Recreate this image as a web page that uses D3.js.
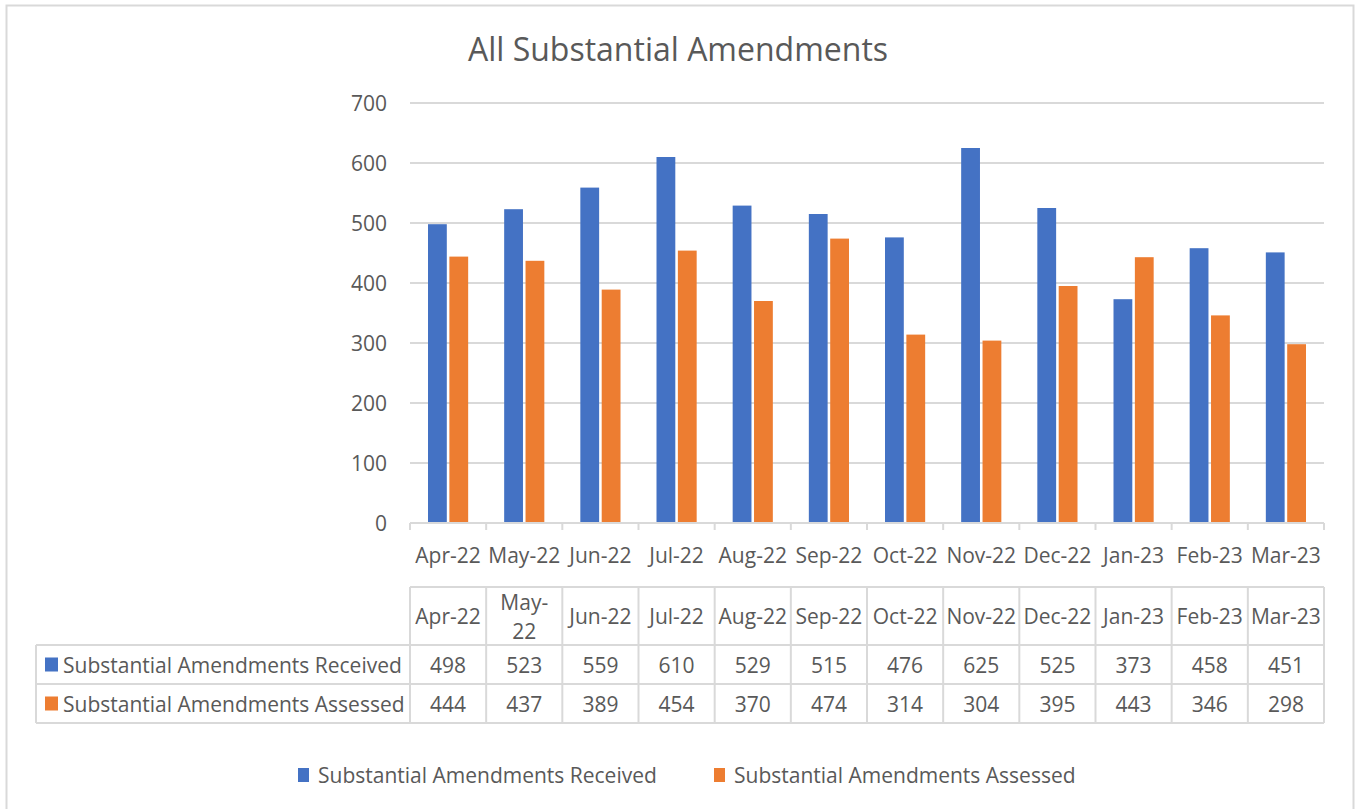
<!DOCTYPE html>
<html>
<head>
  <meta charset="utf-8" />
  <title>All Substantial Amendments</title>
  <script src="https://d3js.org/d3.v7.min.js"></script>
  <style>
    body, html { margin: 0; padding: 0; background: #fff; }
    svg { display: block; }
    text { font-family: "Open Sans", "Noto Sans", sans-serif; fill: #595959; }
  </style>
</head>
<body>
<svg id="chart" width="1361" height="809"></svg>
<script>
// data
var months = ["Apr-22", "May-22", "Jun-22", "Jul-22", "Aug-22", "Sep-22", "Oct-22", "Nov-22", "Dec-22", "Jan-23", "Feb-23", "Mar-23"];
var received = [498, 523, 559, 610, 529, 515, 476, 625, 525, 373, 458, 451];
var assessed = [444, 437, 389, 454, 370, 474, 314, 304, 395, 443, 346, 298];
var seriesNames = ["Substantial Amendments Received", "Substantial Amendments Assessed"];
var colors = ["#4472C4", "#ED7D31"];
var yTicks = [0, 100, 200, 300, 400, 500, 600, 700];

var svg = d3.select("#chart");
var fs = "21px";

// outer chart border
svg.append("rect").attr("x", 6.5).attr("y", 5.5).attr("width", 1347).attr("height", 820)
  .attr("fill", "none").attr("stroke", "#d9d9d9").attr("stroke-width", 2);

var plotLeft = 410, plotRight = 1324, plotTop = 103, plotBottom = 523;

var x = d3.scaleBand().domain(months).range([plotLeft, plotRight]);
var y = d3.scaleLinear().domain([0, 700]).range([plotBottom, plotTop]);
var x1 = d3.scaleBand().domain([0, 1]).range([18, x.bandwidth() - 18]).paddingInner(0.12);

// title
svg.append("text").attr("x", 678).attr("y", 61).attr("text-anchor", "middle")
  .style("font-size", "32px").text("All Substantial Amendments");

// gridlines
svg.append("g").selectAll("line").data(yTicks.filter(function(d) { return d > 0; })).enter()
  .append("line")
  .attr("x1", plotLeft).attr("x2", plotRight)
  .attr("y1", function(d) { return y(d); }).attr("y2", function(d) { return y(d); })
  .attr("stroke", "#d9d9d9").attr("stroke-width", 2);

// y axis labels
svg.append("g").selectAll("text").data(yTicks).enter().append("text")
  .attr("x", 387).attr("y", function(d) { return y(d) + 8; })
  .attr("text-anchor", "end").style("font-size", fs)
  .text(function(d) { return d; });

// bars
var groups = svg.append("g").selectAll("g").data(months).enter().append("g")
  .attr("transform", function(d) { return "translate(" + x(d) + ",0)"; });
groups.selectAll("rect").data(function(d, i) { return [received[i], assessed[i]]; }).enter()
  .append("rect")
  .attr("x", function(d, j) { return x1(j); })
  .attr("width", x1.bandwidth())
  .attr("y", function(d) { return y(d); })
  .attr("height", function(d) { return plotBottom - y(d); })
  .attr("fill", function(d, j) { return colors[j]; });

// x axis line and ticks
svg.append("line").attr("x1", plotLeft).attr("x2", plotRight).attr("y1", plotBottom).attr("y2", plotBottom)
  .attr("stroke", "#d9d9d9").attr("stroke-width", 2);
var tickPos = months.map(function(m) { return x(m); }).concat([plotRight]);
svg.append("g").selectAll("line").data(tickPos).enter().append("line")
  .attr("x1", function(d) { return d; }).attr("x2", function(d) { return d; })
  .attr("y1", plotBottom).attr("y2", plotBottom + 7)
  .attr("stroke", "#d9d9d9").attr("stroke-width", 2);

// x labels
svg.append("g").selectAll("text").data(months).enter().append("text")
  .attr("x", function(d) { return x(d) + x.bandwidth() / 2; }).attr("y", 563)
  .attr("text-anchor", "middle").style("font-size", fs)
  .text(function(d) { return d; });

// data table
var tTop = 587, rowH = [58, 39, 39], tLeft = 36;
var rowY = [tTop, tTop + rowH[0], tTop + rowH[0] + rowH[1], tTop + rowH[0] + rowH[1] + rowH[2]];
var table = svg.append("g");
var gridColor = "#d9d9d9";
// horizontal lines
table.append("line").attr("x1", plotLeft).attr("x2", plotRight).attr("y1", rowY[0]).attr("y2", rowY[0])
  .attr("stroke", gridColor).attr("stroke-width", 2);
[1, 2, 3].forEach(function(r) {
  table.append("line").attr("x1", tLeft).attr("x2", plotRight).attr("y1", rowY[r]).attr("y2", rowY[r])
    .attr("stroke", gridColor).attr("stroke-width", 2);
});
// vertical lines
table.selectAll("line.v").data(tickPos).enter().append("line")
  .attr("x1", function(d) { return d; }).attr("x2", function(d) { return d; })
  .attr("y1", rowY[0]).attr("y2", rowY[3])
  .attr("stroke", gridColor).attr("stroke-width", 2);
table.append("line").attr("x1", tLeft).attr("x2", tLeft).attr("y1", rowY[1]).attr("y2", rowY[3])
  .attr("stroke", gridColor).attr("stroke-width", 2);

// header cells
months.forEach(function(m) {
  var cx = x(m) + x.bandwidth() / 2;
  var t = table.append("text").attr("x", cx).attr("text-anchor", "middle").style("font-size", fs);
  if (m === "May-22") {
    t.attr("y", 610).text("May-");
    table.append("text").attr("x", cx).attr("y", 639).attr("text-anchor", "middle")
      .style("font-size", fs).text("22");
  } else {
    t.attr("y", 624).text(m);
  }
});

// value rows
[received, assessed].forEach(function(vals, r) {
  var mid = rowY[r + 1] + rowH[r + 1] / 2;
  table.append("rect").attr("x", 45).attr("y", mid - 7).attr("width", 13).attr("height", 14)
    .attr("fill", colors[r]);
  table.append("text").attr("x", 63).attr("y", mid + 8).style("font-size", fs).text(seriesNames[r]);
  table.selectAll("text.v" + r).data(vals).enter().append("text")
    .attr("x", function(d, i) { return x(months[i]) + x.bandwidth() / 2; })
    .attr("y", mid + 8).attr("text-anchor", "middle").style("font-size", fs)
    .text(function(d) { return d; });
});

// legend
var legendX = [298, 714];
seriesNames.forEach(function(n, i) {
  svg.append("rect").attr("x", legendX[i]).attr("y", 768).attr("width", 11).attr("height", 14)
    .attr("fill", colors[i]);
  svg.append("text").attr("x", legendX[i] + 20).attr("y", 783).style("font-size", fs).text(n);
});
</script>
</body>
</html>
